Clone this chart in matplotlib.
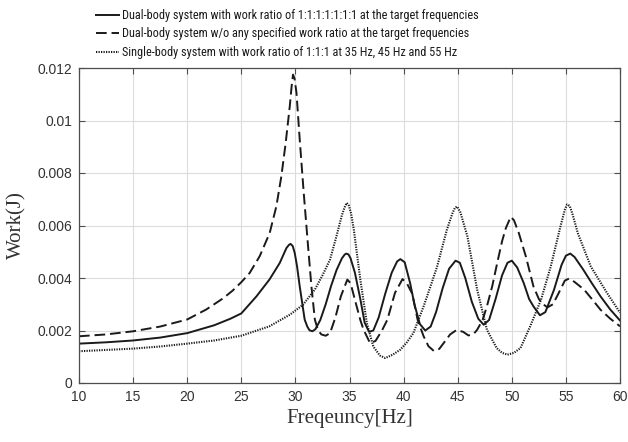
import matplotlib
matplotlib.use("Agg")
import matplotlib.pyplot as plt
from matplotlib import font_manager

# ---------------- data ----------------
f_solid = [10, 12.5, 15, 17.5, 20, 22.5, 24, 25, 26.4, 27.6, 28.55, 29.17, 29.4, 29.55, 29.75,
           29.94, 30.15, 30.4, 30.86, 31.1, 31.3, 31.57, 31.85, 32.3, 32.8, 33.3, 33.8, 34.3,
           34.55, 34.7, 34.9, 35.1, 35.5,
           36.0, 36.4, 36.8, 37.2, 37.7, 38.3, 38.9, 39.4, 39.7, 40.1, 40.6, 41.0, 41.5, 42.0,
           42.5, 43.0, 43.6, 44.2, 44.8, 45.2, 45.7, 46.3, 46.9, 47.4, 47.9, 48.5, 49.1, 49.6,
           50.0, 50.5, 51.1, 51.6, 52.0, 52.6, 53.1, 53.9, 54.6, 55.0, 55.4, 55.8, 56.6, 57.4,
           58.2, 59.1, 60.0]
w_solid = [0.00150, 0.00155, 0.00162, 0.00173, 0.00190, 0.00220, 0.00245, 0.00265, 0.00330,
           0.00394, 0.00457, 0.00514, 0.00526, 0.00530, 0.00522, 0.00495, 0.00445, 0.00368,
           0.00241, 0.00215, 0.00201, 0.00197, 0.00205, 0.00240, 0.00300, 0.00370, 0.00430,
           0.00475, 0.00489, 0.00493, 0.00490, 0.00475, 0.00420,
           0.00320, 0.00230, 0.00195, 0.00200, 0.00250, 0.00340,
           0.00420, 0.00463, 0.00472, 0.00460, 0.00381, 0.00300, 0.00225, 0.00200, 0.00215,
           0.00270, 0.00360, 0.00435, 0.00466, 0.00458, 0.00400, 0.00310, 0.00245, 0.00222,
           0.00240, 0.00320, 0.00410, 0.00458, 0.00466, 0.00440, 0.00381, 0.00320, 0.00292,
           0.00258, 0.00270, 0.00355, 0.00450, 0.00485, 0.00493, 0.00480, 0.00432, 0.00380,
           0.00330, 0.00280, 0.00238]

f_dash = [10, 12.5, 15, 17.5, 20, 21.76, 23.3, 24.2, 25, 25.77, 26.7, 27.62, 28.24, 28.7,
          29.1, 29.48, 29.65, 29.78, 29.92, 30.1, 30.4, 30.77, 31.17, 31.48, 31.8, 32.1, 32.4,
          32.8, 33.2, 33.7, 34.2, 34.8, 35.1,
          35.5, 36.0, 36.3, 36.9, 37.4, 38.0, 38.5, 39.2, 39.9, 40.3, 40.8, 41.3, 41.85, 42.3,
          42.8, 43.3, 43.7, 44.3, 44.9, 45.5, 46.0, 46.5, 46.8, 47.3, 47.7, 48.2, 48.65, 49.1,
          49.45, 49.9, 50.2, 50.65, 51.3, 52.0, 52.5, 52.9, 53.3, 53.8, 54.3, 54.9, 55.3, 55.8,
          56.7, 57.4, 58.2, 59.1, 60.0]
w_dash = [0.00178, 0.00185, 0.00197, 0.00215, 0.00242, 0.00280, 0.00322, 0.00352, 0.00384,
          0.00419, 0.00483, 0.00571, 0.00673, 0.00787, 0.00914, 0.01054, 0.01130, 0.01175,
          0.01160, 0.01105, 0.00927, 0.00724, 0.00521, 0.00368, 0.00241, 0.00200, 0.00185,
          0.00180, 0.00190, 0.00250, 0.00330, 0.00394, 0.00380,
          0.00317, 0.00240, 0.00203, 0.00152, 0.00160, 0.00200, 0.00241,
          0.00343, 0.00396, 0.00380, 0.00340, 0.00240, 0.00178, 0.00140, 0.00122, 0.00130,
          0.00152, 0.00185, 0.00202, 0.00195, 0.00181, 0.00188, 0.00203, 0.00240, 0.00292,
          0.00370, 0.00457, 0.00540, 0.00590, 0.00633, 0.00620, 0.00571, 0.00482, 0.00368,
          0.00320, 0.00300, 0.00288, 0.00300, 0.00340, 0.00390, 0.00398, 0.00385, 0.00355,
          0.00320, 0.00279, 0.00245, 0.00216]

f_dot = [10, 12.5, 15, 17.5, 20, 22.5, 25, 27.6, 29.48, 30.7, 31.8, 32.5, 33.2, 33.8,
         34.3, 34.6, 34.75, 34.95, 35.15, 35.4, 36.0, 36.6, 37.2, 37.8, 38.3, 39.0, 39.7, 40.3,
         40.9, 41.85, 42.5, 43.1, 44.0, 44.5, 44.75, 44.95, 45.25, 45.9, 46.8, 47.7, 48.6, 49.1,
         49.6, 50.2, 50.8, 51.7, 52.7, 53.6, 54.5, 54.9, 55.1, 55.35, 55.6, 56.1, 57.3, 58.8,
         60.0]
w_dot = [0.00121, 0.00126, 0.00131, 0.00139, 0.00150, 0.00162, 0.00180, 0.00216, 0.00260,
         0.00298, 0.00356, 0.00410, 0.00470, 0.00560, 0.00640, 0.00675, 0.00686, 0.00675,
         0.00645, 0.00584, 0.00394, 0.00229, 0.00139, 0.00105, 0.00095, 0.00108, 0.00127,
         0.00155, 0.00190, 0.00292, 0.00370, 0.00444, 0.00584, 0.00645, 0.00668, 0.00672,
         0.00650, 0.00558, 0.00355, 0.00203, 0.00133, 0.00115, 0.00108, 0.00115, 0.00133,
         0.00216, 0.00317, 0.00444, 0.00597, 0.00660, 0.00680, 0.00675, 0.00645, 0.00571,
         0.00444, 0.00343, 0.00268]

labels = ["Dual-body system with work ratio of 1:1:1:1:1:1:1 at the target frequencies",
          "Dual-body system w/o any specified work ratio at the target frequencies",
          "Single-body system with work ratio of 1:1:1 at 35 Hz, 45 Hz and 55 Hz"]
x_ticks = [10, 15, 20, 25, 30, 35, 40, 45, 50, 55, 60]
y_ticks = [0, 0.002, 0.004, 0.006, 0.008, 0.01, 0.012]
y_ticklabels = ["0", "0.002", "0.004", "0.006", "0.008", "0.01", "0.012"]

# ---------------- figure ----------------
W, H = 628, 442
fig = plt.figure(figsize=(W / 100, H / 100), dpi=100)
ax = fig.add_axes([79 / W, 1 - 383 / H, (620 - 79) / W, (383 - 68) / H])

lc = "#1a1a1a"
l1, = ax.plot(f_solid, w_solid, color=lc, lw=1.4, linestyle="-")
l2, = ax.plot(f_dash, w_dash, color=lc, lw=1.4, linestyle=(0, (5.5, 2.5)))
l3, = ax.plot(f_dot, w_dot, color=lc, lw=1.5, linestyle=(0, (0.6, 0.6)))

ax.set_xlim(10, 60)
ax.set_ylim(0, 0.012)
ax.set_xticks(x_ticks)
ax.set_xticklabels([str(t) for t in x_ticks])
ax.set_yticks(y_ticks)
ax.set_yticklabels(y_ticklabels)

ax.grid(True, color="#dcdcdc", lw=0.8)
ax.set_axisbelow(True)
for s in ax.spines.values():
    s.set_color("#4d4d4d")
    s.set_linewidth(0.9)
ax.tick_params(direction="in", top=True, right=True, length=4, width=0.8,
               color="#4d4d4d", labelcolor="#333333", labelsize=10, pad=5)
for lab in ax.get_xticklabels() + ax.get_yticklabels():
    lab.set_fontfamily("Liberation Sans")

ax.set_xlabel("Freqeuncy[Hz]", fontfamily="Liberation Serif", fontsize=15,
              color="#333333", labelpad=4)
ax.set_ylabel("Work(J)", fontfamily="Liberation Serif", fontsize=15,
              color="#333333", labelpad=8)

# condensed sans font for the legend (reference uses an Arial-Narrow-like face)
names = {f.name for f in font_manager.fontManager.ttflist}
leg_family = "Liberation Sans"
for cand in ["Liberation Sans Narrow", "Arial Narrow", "Roboto Condensed", "PT Sans Narrow",
             "Archivo Narrow", "Open Sans Condensed", "Asap Condensed"]:
    if cand in names:
        leg_family = cand
        break

def make_legend(size):
    fpx = size * 100 / 72
    return fig.legend([l1, l2, l3], labels, loc="upper left",
                      bbox_to_anchor=(96 / W, 1 - 9 / H), frameon=False,
                      prop={"family": leg_family, "size": size},
                      handlelength=23 / fpx, handletextpad=3 / fpx,
                      labelspacing=5.5 / fpx, borderpad=0, borderaxespad=0,
                      labelcolor="#1a1a1a")

size = 10.5
leg = make_legend(size)
fig.canvas.draw()
r = fig.canvas.get_renderer()
tw = leg.get_texts()[0].get_window_extent(r).width
target = 358.0
if tw > 0:
    leg.remove()
    size = size * target / tw
    leg = make_legend(size)

fig.savefig("out.png", dpi=100)
